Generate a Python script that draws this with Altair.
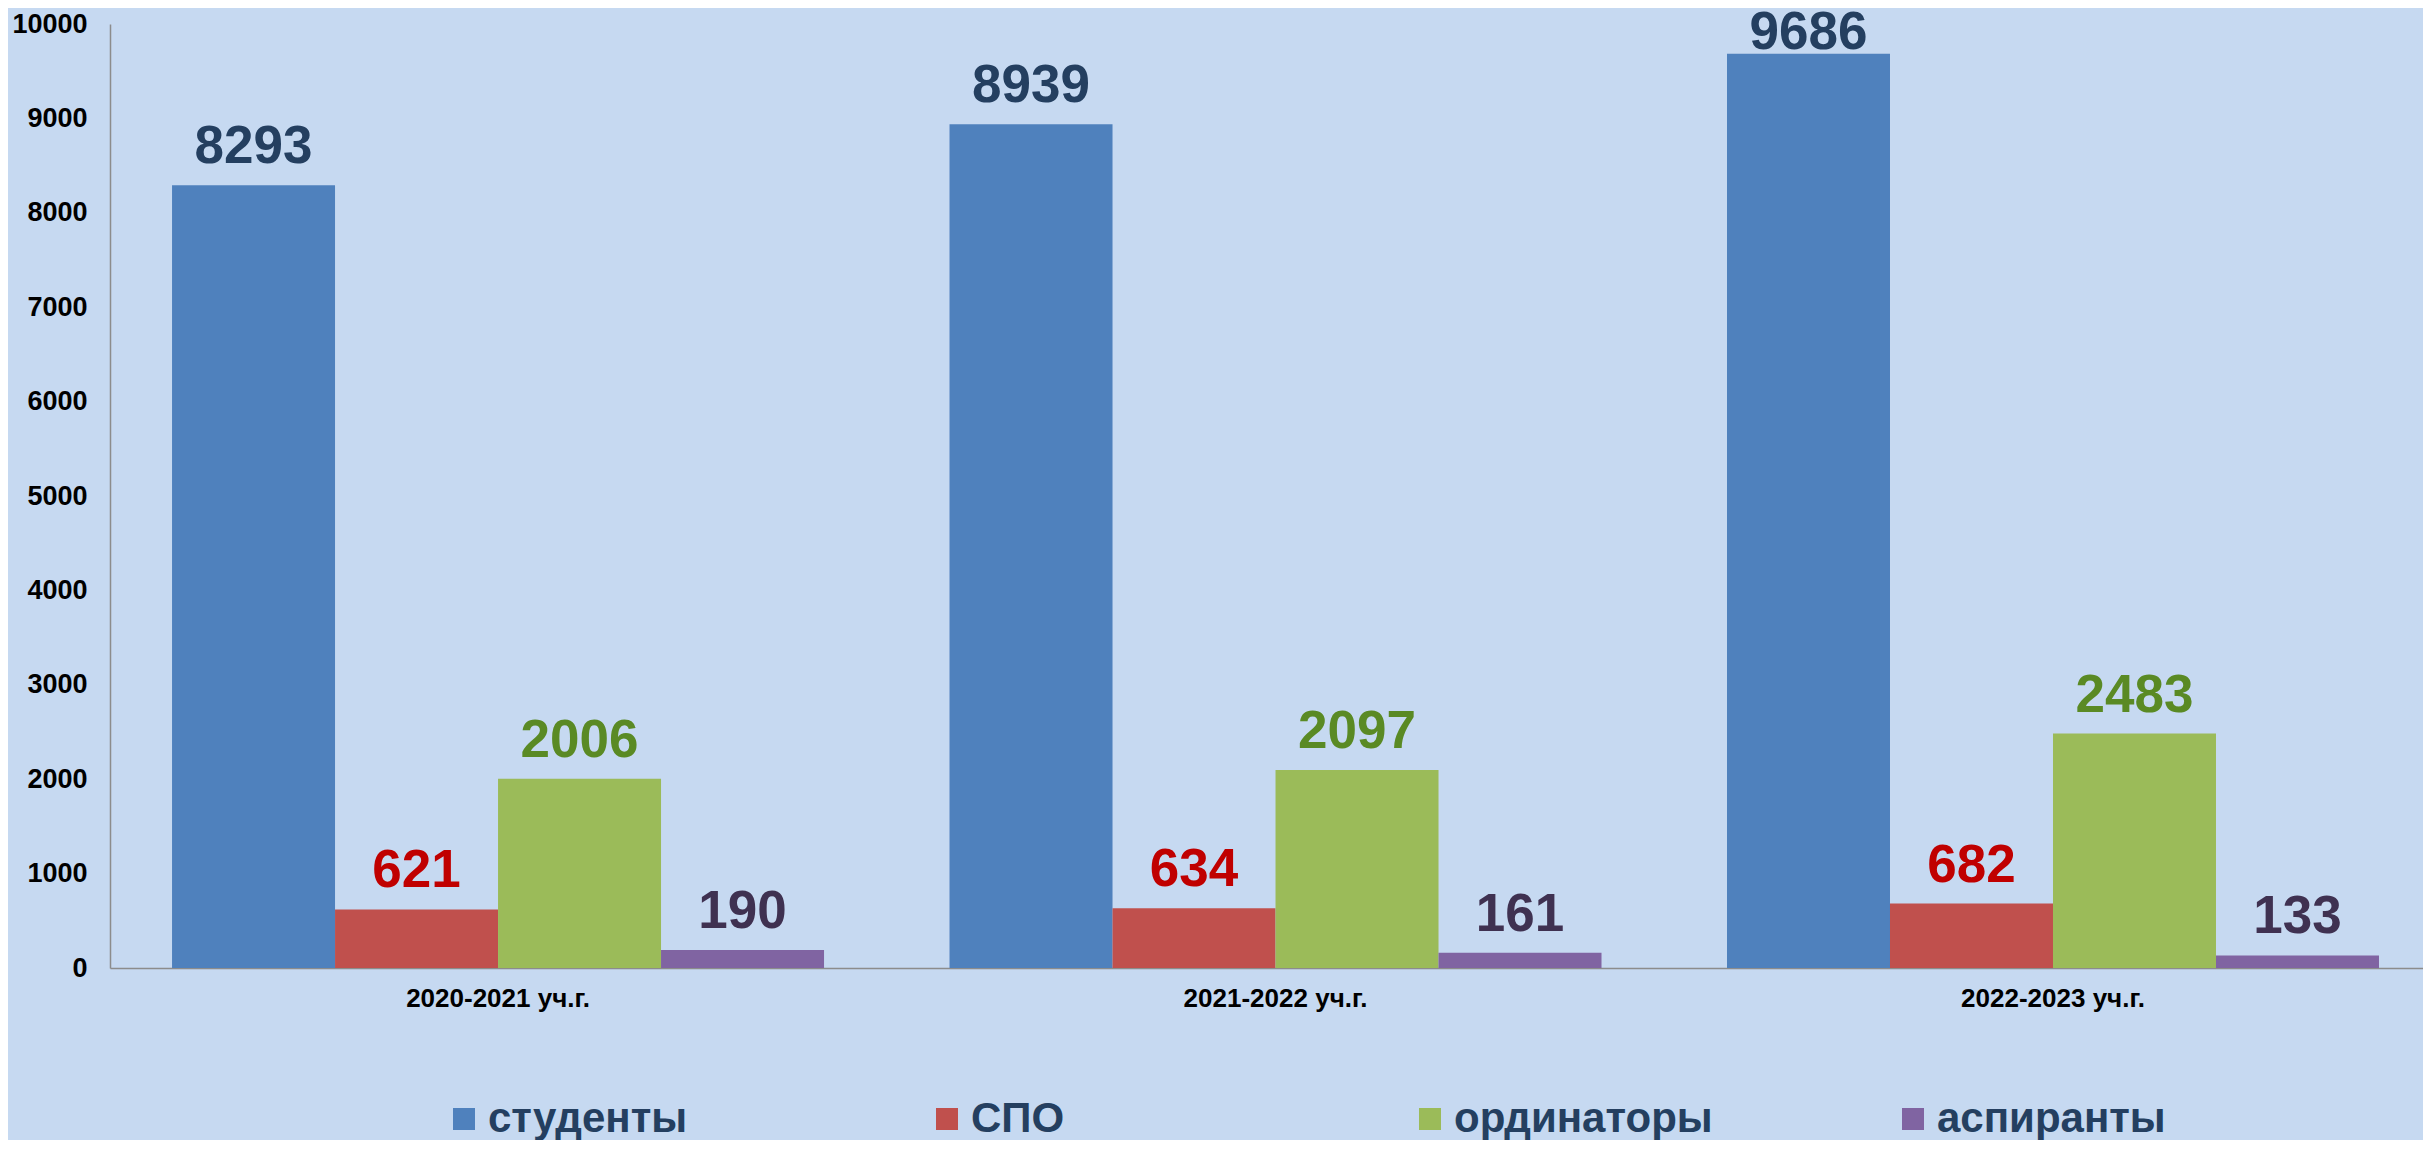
import altair as alt
import pandas as pd

years = ["2020-2021 уч.г.", "2021-2022 уч.г.", "2022-2023 уч.г."]
series = ["студенты", "СПО", "ординаторы", "аспиранты"]
studenty = [8293, 8939, 9686]
spo = [621, 634, 682]
ordinatory = [2006, 2097, 2483]
aspiranty = [190, 161, 133]

bar_colors = ["#4F81BD", "#C0504D", "#9BBB59", "#8064A2"]
label_colors = ["#243F60", "#C00000", "#5A8A24", "#3F3151"]

rows = []
for s, vals in zip(series, [studenty, spo, ordinatory, aspiranty]):
    for y, v in zip(years, vals):
        rows.append({"year": y, "series": s, "value": v})
df = pd.DataFrame(rows)

FONT = "Liberation Sans"

base = alt.Chart(df).encode(
    x=alt.X(
        "year:N",
        sort=years,
        title=None,
        scale=alt.Scale(paddingInner=0.1614, paddingOuter=0.0682, align=0.585),
        axis=alt.Axis(
            labelAngle=0, labelFont=FONT, labelFontSize=26, labelFontWeight="bold",
            labelColor="#000000", labelPadding=17, labelLimit=600, ticks=False,
            domainColor="#8C8C8C", domainWidth=1.5,
        ),
    ),
    xOffset=alt.XOffset("series:N", sort=series, scale=alt.Scale(paddingInner=0, paddingOuter=0)),
)

yenc = alt.Y(
    "value:Q",
    title=None,
    scale=alt.Scale(domain=[0, 10000], nice=False),
    axis=alt.Axis(
        values=list(range(0, 10001, 1000)), format="d", labelFont=FONT, labelFontSize=27,
        labelFontWeight="bold", labelColor="#000000", labelPadding=23, ticks=False,
        grid=False, domainColor="#8C8C8C", domainWidth=1.5,
    ),
)

bars = base.mark_bar(stroke=None).encode(
    y=yenc,
    color=alt.Color(
        "series:N",
        sort=series,
        scale=alt.Scale(domain=series, range=bar_colors),
        legend=alt.Legend(
            title=None, orient="none", legendX=333, legendY=1074, direction="horizontal",
            columns=4, gridAlign="all", columnPadding=179, padding=0,
            symbolType="square", symbolSize=484, symbolStrokeWidth=0, symbolOpacity=1,
            labelFont=FONT, labelFontSize=42, labelFontWeight="bold", labelColor="#243F60",
            labelOffset=3, labelLimit=600,
        ),
    ),
)

# label sits 22px above the bar top, but is kept inside the chart area (as in the source)
labels = base.transform_calculate(
    labelpos="min(datum.value + 233, 9730)"
).mark_text(
    font=FONT, fontSize=53, fontWeight="bold", baseline="alphabetic"
).encode(
    y=alt.Y("labelpos:Q"),
    text=alt.Text("value:Q", format="d"),
    color=alt.Color("series:N", scale=alt.Scale(domain=series, range=label_colors), legend=None),
)

chart = (
    alt.layer(bars, labels)
    .resolve_scale(color="independent")
    .properties(
        width=2313,
        height=944,
        padding={"left": 102, "top": 16, "right": 0, "bottom": 172},
        autosize=alt.AutoSizeParams(type="none"),
        background="#C6D9F1",
    )
    .configure_view(stroke=None)
)

chart.save("out.html", embed_options={"renderer": "svg", "actions": False})
